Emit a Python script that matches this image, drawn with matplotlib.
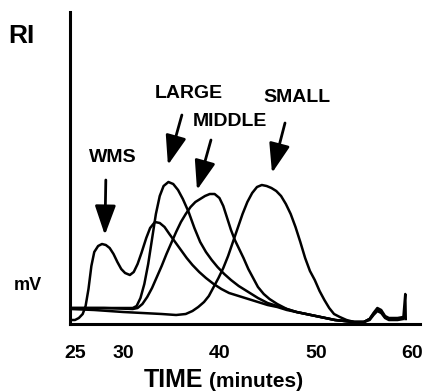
import numpy as np
import matplotlib
matplotlib.use('Agg')
import matplotlib.pyplot as plt

plt.rcParams['font.family'] = ['Liberation Sans', 'DejaVu Sans']
plt.rcParams['font.weight'] = 'bold'

# chromatogram traces (time in minutes, RI signal in arbitrary mV)
wms_t = [24.6, 25.0, 25.4, 25.8, 26.1, 26.4, 26.7, 27.0, 27.4, 27.8, 28.2, 28.6, 29.0, 29.4,
         29.8, 30.2, 30.7, 31.1, 31.5, 31.9, 32.4, 32.8, 33.3, 33.8, 34.3, 34.8, 35.4, 36.0,
         36.6, 37.2, 37.9, 38.6, 39.4, 40.2, 41.0, 42.0, 43.0, 44.0, 45.0, 46.0, 47.0, 48.0,
         49.0, 50.0, 51.0, 52.0, 53.0, 54.0, 55.0, 55.6, 56.0, 56.4, 56.8, 57.2, 57.6, 58.5, 59.1]
wms_mv = [4, 4, 6, 10, 18, 35, 58, 72, 78, 80, 79, 76, 70, 62,
          55, 51, 49, 52, 60, 71, 86, 96, 102, 101, 97, 90, 82, 74,
          66, 59, 52, 46, 40, 35, 31, 28, 25, 22, 19, 17, 14, 12,
          10, 8, 6, 4, 3, 2, 2, 5, 11, 16, 14, 8, 6, 6, 7]

large_t = [24.5, 26.0, 28.0, 30.0, 31.0, 31.4, 31.8, 32.2, 32.6, 33.0, 33.4, 33.8, 34.2, 34.7,
           35.2, 35.7, 36.2, 36.8, 37.4, 38.0, 38.6, 39.2, 39.8, 40.5, 41.2, 42.0, 43.0, 44.0,
           45.0, 46.0, 47.0, 48.0, 49.0, 50.0, 51.0, 52.0, 53.0, 54.0, 55.0, 55.6, 56.0, 56.4,
           56.8, 57.2, 57.6, 58.5, 59.1]
large_mv = [16, 16, 16, 16, 16, 18, 26, 40, 60, 85, 110, 128, 138, 142,
            140, 134, 125, 112, 96, 82, 72, 64, 57, 50, 44, 38, 32, 26,
            21, 18, 15, 12, 10, 8, 6, 4, 3, 2, 2, 5, 10, 14,
            12, 7, 5, 5, 6]

middle_t = [24.5, 28.0, 31.0, 31.5, 32.0, 32.5, 33.0, 33.5, 34.0, 34.5, 35.0, 35.5, 36.0, 36.5,
            37.0, 37.5, 38.0, 38.5, 39.0, 39.5, 40.0, 40.4, 40.8, 41.2, 41.6, 42.0, 42.5, 43.0,
            43.5, 44.0, 44.6, 45.2, 46.0, 47.0, 48.0, 49.0, 50.0, 51.0, 52.0, 53.0, 54.0, 55.0,
            55.6, 56.0, 56.4, 56.8, 57.2, 57.6, 58.5, 59.1]
middle_mv = [16, 16, 15, 16, 20, 27, 36, 47, 58, 70, 81, 92, 102, 110,
             117, 122, 125, 128, 130, 130, 126, 118, 106, 94, 84, 76, 66, 55,
             46, 37, 30, 25, 20, 15, 12, 10, 8, 6, 4, 3, 2, 2,
             4, 9, 13, 11, 6, 4, 4, 5]

small_t = [24.5, 27.0, 30.0, 32.0, 34.0, 35.5, 36.5, 37.2, 37.8, 38.4, 38.9, 39.4, 39.9, 40.4,
           40.9, 41.4, 41.9, 42.4, 42.9, 43.4, 43.9, 44.4, 44.9, 45.4, 45.9, 46.4, 46.9, 47.4,
           47.9, 48.4, 48.9, 49.4, 49.9, 50.4, 50.9, 51.4, 51.9, 52.5, 53.2, 54.0, 55.0, 55.6,
           56.0, 56.4, 56.8, 57.2, 57.6, 58.5, 59.1, 59.3, 59.35]
small_mv = [15, 14, 12, 11, 10, 9, 10, 13, 17, 22, 28, 37, 46, 56,
            68, 82, 96, 110, 122, 131, 137, 139, 138, 136, 133, 128, 120, 110,
            97, 82, 66, 53, 44, 33, 24, 16, 10, 7, 4, 2, 2, 5,
            10, 14, 12, 7, 5, 5, 6, 30, 5]

tick_vals = [25, 30, 40, 50, 60]
tick_labels = ['25', '30', '40', '50', '60']

# arrow (tip, tail) in data coords and the peak names
arrows = {
    'WMS': ((28.1, 89), (28.2, 144)),
    'LARGE': ((34.65, 159), (36.1, 209)),
    'MIDDLE': ((37.67, 134), (39.12, 184)),
    'SMALL': ((45.46, 151), (46.81, 201)),
}
label_px = {'WMS': (113, 157), 'LARGE': (189, 94), 'MIDDLE': (230, 122), 'SMALL': (297, 97)}

W, H = 424, 391
fig = plt.figure(figsize=(W / 100, H / 100), dpi=100)
ax = fig.add_axes([70 / W, 1 - 324 / H, 350 / W, 312 / H])

for t, mv in [(wms_t, wms_mv), (large_t, large_mv), (middle_t, middle_mv), (small_t, small_mv)]:
    ax.plot(t, mv, color='black', lw=1.8, solid_joinstyle='round')

ax.set_xlim(24.48, 60.83)
ax.set_ylim(0, 312)
for s in ['top', 'right']:
    ax.spines[s].set_visible(False)
ax.spines['left'].set_linewidth(2.2)
ax.spines['bottom'].set_linewidth(2.2)
ax.set_yticks([])
ax.set_xticks(tick_vals)
ax.set_xticklabels(tick_labels, fontsize=14, fontweight='bold')
ax.tick_params(axis='x', length=0, pad=15)

for name, (tip, tail) in arrows.items():
    ax.annotate('', xy=tip, xytext=tail,
                arrowprops=dict(arrowstyle='-|>,head_length=0.9,head_width=0.32',
                                lw=2, color='black', shrinkA=0, shrinkB=0,
                                mutation_scale=20))
    px, py = label_px[name]
    fig.text(px / W, 1 - py / H, name, ha='center', va='center', fontsize=14, fontweight='bold')

fig.text(21 / W, 1 - 36 / H, 'RI', ha='center', va='center', fontsize=19, fontweight='bold')
fig.text(28 / W, 1 - 285 / H, 'mV', ha='center', va='center', fontsize=13, fontweight='bold')
fig.text(203 / W, 1 - 387 / H, 'TIME', ha='right', va='baseline', fontsize=18, fontweight='bold')
fig.text(209 / W, 1 - 387 / H, '(minutes)', ha='left', va='baseline', fontsize=15, fontweight='bold')

fig.savefig('out.png', dpi=100)
